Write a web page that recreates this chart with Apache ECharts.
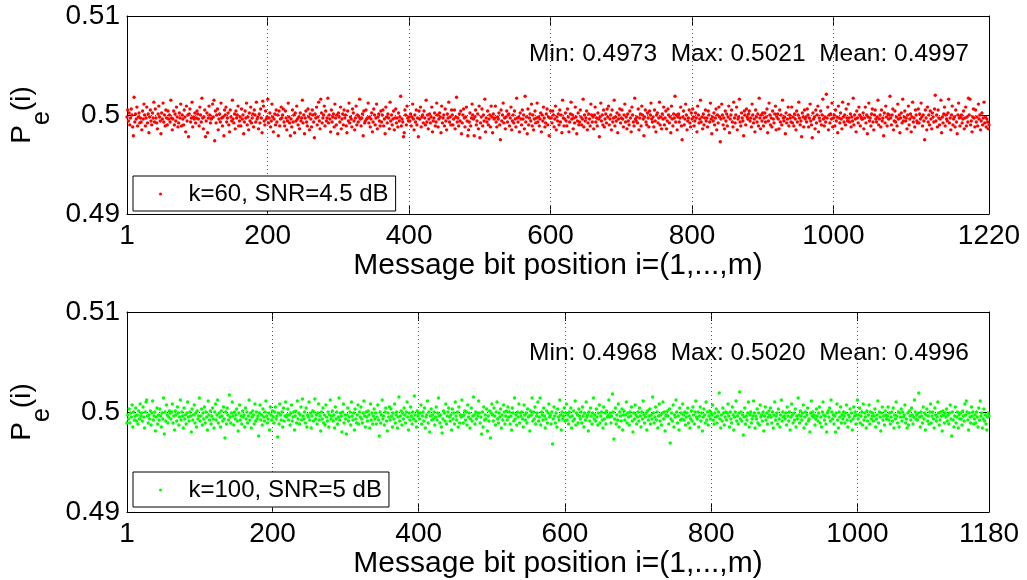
<!DOCTYPE html>
<html>
<head>
<meta charset="utf-8">
<title>P_e(i) per message bit position</title>
<script src="https://cdn.jsdelivr.net/npm/echarts@6/dist/echarts.min.js"></script>
<style>
html, body { margin: 0; padding: 0; background: #fff; }
#chart { width: 1027px; height: 580px; }
</style>
</head>
<body>
<div id="chart"></div>
<script>
// Per-bit error probability P_e(i) for bit positions i = 1..m,
// stored as offsets from 0.5 in units of 1e-4 (e.g. -3 means 0.4997).
const pe60Offset = [
  -2,5,-6,2,-10,-3,6,0,-12,-21,18,-7,1,-4,8,-11,-2,2,-8,-3,
  -7,-15,4,-4,11,0,-11,-3,8,-8,1,-18,-2,5,-6,-10,2,-3,13,-7,
  6,-3,-8,-14,1,9,-2,-6,-19,2,-4,12,-7,0,-11,5,-3,-10,4,-4,
  0,-7,15,-3,-15,-4,4,-10,1,-6,8,-2,-12,-8,2,-3,11,-11,0,-4,
  -10,5,-2,-17,9,-6,0,-22,1,6,-7,-3,13,-12,-2,-4,2,-8,-3,4,
  1,-4,-11,8,0,-7,17,-3,-14,-2,5,-22,-6,2,-18,-3,9,0,-8,-4,
  -3,11,-2,15,-26,4,-8,0,6,-15,-4,1,-7,12,-3,-11,-2,-21,5,0,
  8,-7,-3,2,-10,-17,5,-2,-6,15,-4,-8,1,-14,4,-3,0,9,-11,-6,
  -2,-11,6,-4,0,-19,-7,4,-3,12,-10,-2,-15,2,-6,8,-8,-3,1,-12,
  5,0,-7,13,-4,-2,-14,1,-8,6,-3,-18,14,9,-6,-10,4,-4,-2,16,
  -8,-3,2,-12,-6,11,-2,-17,-4,1,-10,5,-7,0,-21,4,-11,-4,8,-3,
  0,6,-7,-11,4,-3,-15,-6,12,-2,-8,-21,-4,-12,5,-7,0,-18,2,-6,
  9,-4,-10,-2,-14,2,-6,-3,15,-8,0,-19,-3,4,-7,-11,6,-2,-15,1,
  -4,-12,5,0,-7,-23,1,-3,8,-10,-2,13,-6,-14,16,2,-8,-3,0,9,
  -11,4,-6,-3,17,-8,0,-4,-17,5,-7,-2,1,-12,11,-3,-10,0,-19,2,
  -2,-7,8,-14,-4,1,-10,5,-3,0,-11,-18,4,-6,12,-8,-2,-4,-12,6,
  2,-6,-15,-3,9,-10,0,-7,-2,16,-4,-11,-3,1,-21,4,-8,-6,5,-4,
  -3,12,-8,-2,-12,-4,2,-17,-7,6,0,-10,-3,11,-14,-2,1,-6,-11,4,
  -7,0,5,-11,-4,-19,8,-2,-8,1,-3,-14,13,-6,0,-10,-4,4,-15,-3,
  6,-8,-3,-12,2,-6,-2,19,-11,-4,-7,-22,-18,5,0,-10,9,-3,-6,-2,
  -6,1,-11,-2,11,-4,-15,0,-7,5,-10,-3,-22,4,-4,8,-12,-2,0,-8,
  4,-3,-10,15,-7,0,-14,-4,1,-8,-2,8,-17,-6,-3,2,-11,-7,12,0,
  -12,-4,2,-2,-18,9,-8,-3,0,-11,6,-6,-15,1,-3,13,-7,-2,-10,5,
  0,-10,-4,5,-14,-2,18,-7,-3,-11,1,-6,4,-19,-8,0,6,-3,-12,-2,
  8,-6,-21,-15,-7,2,-11,-3,11,0,-4,-21,-2,5,-10,-6,1,-14,9,-23,
  -8,-2,6,-11,0,-6,16,-17,-3,-7,4,-10,-4,0,-12,9,-2,-18,1,-4,
  -3,9,-7,-12,-2,-4,2,-10,-25,5,-6,0,12,-8,-3,-14,-2,4,-7,0,
  1,-11,-3,8,-15,-6,0,-8,4,-4,-12,17,-3,-7,-2,-17,2,-4,-10,5,
  -4,0,-14,19,-7,-2,-19,6,-10,-3,1,-6,11,-11,0,-15,-4,4,-8,-3,
  12,-7,-2,-11,-4,2,-17,0,-6,8,-3,-12,-8,1,6,-10,-2,-21,-3,4,
  -3,-8,4,0,-12,-4,9,-15,-2,-6,1,-10,5,-7,0,-18,15,-3,-11,-4,
  2,-6,-11,6,-2,-17,-7,1,13,-4,0,-14,-3,-8,8,-2,-19,-6,2,-10,
  -7,5,-2,-10,-4,16,-12,0,-6,-3,4,-15,-8,1,-4,-11,11,0,-7,-2,
  -14,0,8,-7,-3,-11,2,-4,-22,-2,12,-6,0,-10,5,-12,-4,1,-8,6,
  -2,9,-10,-4,0,-15,5,-7,-3,15,-11,-2,-6,2,-18,-4,0,6,-8,-3,
  5,-4,-12,0,11,-7,-2,-14,1,-6,-10,4,-3,-17,8,0,-7,-11,17,-4,
  -6,-2,-8,6,-15,-3,1,-11,9,0,-4,-21,-2,5,-7,-10,2,-3,-12,4,
  0,12,-4,-7,-2,-12,5,-6,-17,0,2,-8,-3,13,-10,-2,-14,1,-4,8,
  -10,-3,4,-14,-6,6,0,-8,-2,-18,9,-4,-11,1,-3,19,-7,0,-15,-2,
  1,-7,-3,8,-11,-25,-2,4,-10,-4,11,0,-15,-6,-3,5,-8,-12,2,-4,
  6,-2,-11,-6,2,-3,-17,9,0,-8,-4,15,-7,-2,-14,1,-10,-3,5,-6,
  -3,-12,4,0,-7,12,-4,-19,-2,-6,2,-10,-3,6,-15,0,-8,8,-2,-27,
  -4,11,0,-10,-3,-14,4,-6,1,-11,-2,9,-18,-4,0,5,-7,-12,13,-3,
  -8,0,8,-15,-4,-2,16,-7,-11,2,-3,-6,-21,4,0,-10,6,-2,-4,1,
  4,-6,-3,-12,11,0,-8,-4,-17,5,-2,-7,1,-11,17,-3,-14,0,-6,2,
  -11,-3,2,-7,-2,6,-18,-6,12,0,-10,-3,-12,4,-4,-8,1,9,-15,-2,
  1,-4,-14,5,-7,0,-10,15,-3,-6,-2,-19,2,-8,-4,8,-11,0,-3,-7,
  8,-8,-2,-11,1,-4,-15,4,-7,0,13,-3,-10,-6,-22,2,-2,-12,5,-4,
  -2,-7,6,0,-12,-3,11,-6,-10,-23,2,-4,-2,-14,5,-8,0,9,-17,-3,
  -6,4,-10,0,16,-4,-11,-2,-7,21,-3,8,-15,0,-8,1,-4,12,-12,-3,
  0,-11,5,-6,-2,-18,9,-3,-8,2,-4,-14,13,-2,-7,0,-10,6,-3,-6,
  11,-3,-7,1,-12,-2,-6,17,-10,0,-4,-17,4,-3,-8,8,0,-11,-2,-4,
  -4,2,-14,-3,8,-8,0,-19,-2,12,-6,-3,-11,1,6,-7,-15,0,5,-4,
  -7,-2,15,-10,-4,0,-12,5,-6,-3,-21,2,-8,9,-2,-11,1,-4,0,19,
  -3,-10,0,6,-15,-6,4,-7,-2,-11,11,-4,0,-18,-3,2,-8,16,-6,-2,
  4,-6,-3,-14,0,9,-10,-4,1,-17,-2,13,-7,-3,-12,5,0,-6,-8,6,
  -8,1,-4,12,-2,-11,0,-6,-25,5,-3,-15,8,-7,0,-10,4,-4,-14,2,
  -2,-7,6,20,-6,0,-12,5,-3,-10,-4,15,-18,-2,-8,1,8,-11,0,-4,
  -6,2,16,-8,-3,-15,0,9,-10,-4,-2,-12,5,-7,-19,0,12,-3,-11,-2,
  0,-8,-4,4,-14,-3,8,-11,-2,-7,17,0,16,-10,-6,-17,-2,6,-3,-12,
  5,-7,-2,-11,11,-4,0,-15,-6,2,-10,-3,13,-8,-2,-12,-4,-7,-14,-10
];

const pe100Offset = [
  -11,-3,-7,3,-11,-1,-5,7,-15,0,-8,-4,4,-9,-3,-12,1,-7,8,-4,
  -1,-9,5,-5,-16,0,10,12,-4,-11,-3,-7,1,-13,-1,11,-8,-4,0,-19,
  -5,4,-12,-3,-8,3,-4,-15,-1,-7,14,-22,0,-9,7,-3,-11,-5,1,-1,
  -7,0,8,-11,-4,-18,1,-3,-9,5,-1,-13,-5,12,-8,0,-4,-16,4,-7,
  -3,-12,-1,10,-5,-9,0,-4,-20,3,-8,-3,7,-11,-1,-15,1,-7,-4,14,
  -9,-4,3,-13,-1,-7,5,-11,0,-5,-18,11,-3,-8,1,-12,-4,4,-7,-16,
  0,8,-8,-3,12,-11,-1,-5,-15,1,-4,-9,5,-7,-26,0,-12,4,-3,-8,
  17,-5,-11,-1,10,-4,-13,0,-7,-3,3,-9,-19,-1,7,-8,-4,-12,1,-5,
  -3,-15,4,-7,0,-11,-4,12,-8,-1,-16,-5,1,-3,-12,8,-9,0,-7,-4,
  -24,-1,7,-8,-3,-13,3,-5,-9,0,11,-4,-11,-7,-1,-18,5,-3,-8,1,
  -5,-11,0,5,-7,-4,-25,-1,-12,8,-3,-8,0,-15,4,-9,-4,10,-5,-3,
  3,-8,-3,-13,-1,7,-9,-5,0,-18,-4,1,-11,11,-7,-1,-12,-3,5,-8,
  13,-4,-7,0,-11,4,-15,-3,-5,10,-8,-1,-16,-4,1,-9,0,13,-7,-3,
  -12,-1,8,-8,-4,-19,0,-7,4,-11,-3,-13,7,-5,-9,0,-15,-3,12,-7,
  -4,1,-9,-3,-16,5,-7,0,-12,-5,14,-8,-1,-4,-20,0,8,-11,-3,-7,
  -22,-3,4,-9,-5,0,-13,10,-4,-8,-1,-18,3,-7,-11,-3,7,-12,0,-5,
  5,-7,-11,-1,11,-4,-15,0,-5,-9,1,-3,-16,8,-8,-1,-12,-4,3,-7,
  -1,-12,-5,7,-8,-24,0,-11,-3,12,-7,-4,-13,0,4,-9,-19,-1,-5,5,
  -8,3,-4,-15,-1,-7,8,-11,-3,0,-16,-5,15,-9,-4,1,-13,-1,-7,4,
  -3,-11,0,10,-5,-18,-1,-8,5,-4,-12,0,-7,16,-3,-9,-15,1,-4,-1,
  -7,-1,7,-12,-4,0,-9,4,-16,-5,-3,11,-11,0,-20,-4,3,-8,-3,-7,
  0,-13,-5,5,-8,-1,14,-4,-11,-3,-15,-21,-7,1,-1,-9,8,-12,-4,0,
  4,-5,-9,-3,-18,3,-7,-1,-12,10,-4,-8,0,-15,5,-11,-3,-5,12,-4,
  -11,-3,1,-8,0,-13,7,-5,-1,-16,-7,4,-9,-4,15,-3,-12,0,-7,-1,
  -4,11,-1,-11,-5,-22,0,-15,5,-8,-3,-7,3,-19,-4,-9,1,-26,-1,8,
  -3,-9,4,-4,-13,0,10,-7,-11,-1,-5,3,-16,-3,-8,7,0,-12,-4,1,
  -8,5,-5,0,-12,-4,-18,4,-1,-9,14,-7,-3,-13,0,-5,8,-11,-1,-4,
  0,-7,-15,7,-3,-8,-1,-11,3,-5,-4,-19,1,-3,14,-9,0,-7,5,-12,
  -4,-1,10,-9,-5,14,-13,0,-3,-8,4,-4,-16,-7,1,-11,-1,8,-5,-3,
  -12,0,-32,-7,5,-4,-11,-1,-15,3,-5,-8,12,-3,-18,0,-7,-4,4,-9,
  -1,8,-8,-3,-12,0,-5,4,-16,-4,-9,1,-7,11,-13,-1,-3,-11,3,-4,
  -7,0,-11,5,-4,-15,-1,-8,10,-5,-3,-19,0,-9,4,-4,-12,-1,14,-7,
  -3,-9,3,-5,-13,-1,7,-11,-4,0,-8,-16,5,-7,-1,-12,1,-5,-3,12,
  -5,-1,-11,-4,18,0,-27,-7,4,-12,-3,-8,8,-15,0,-4,-9,3,-18,-3,
  1,-8,-3,10,-11,-1,-5,-13,0,-4,5,-9,-20,-1,-7,7,-3,-12,-5,0,
  -9,4,-4,-15,0,-7,11,-3,-11,-5,-1,-18,1,-8,-4,3,-12,-3,-7,15,
  -1,-11,-5,5,-8,0,-16,-4,8,-9,-3,-13,-1,10,-7,0,-19,-4,-3,1,
  -4,-12,3,-31,-7,-1,-9,7,-15,-3,-5,12,0,-11,-4,-18,4,-8,-1,-7,
  8,-3,-8,0,-13,-5,-1,4,-11,-4,-16,-7,1,-9,5,-3,-12,0,11,-5,
  -7,0,-15,-4,5,-9,-1,-19,-5,3,-3,-11,10,-8,0,-13,-4,1,-7,-1,
  -3,7,-8,-12,-1,-5,3,-11,-4,0,19,-7,-16,-3,-9,4,-1,-13,-5,0,
  -8,-1,8,-4,-15,0,-7,-11,5,-3,-18,-5,0,11,-9,-4,-12,-1,20,-7,
  0,-9,-3,-23,-5,4,-12,-4,-8,-1,10,-15,-3,0,-11,-7,-4,11,-1,-16,
  -4,-7,3,-11,-1,-13,7,-5,-3,-9,0,-19,-4,5,-8,-1,-12,-5,1,-3,
  4,-5,-11,0,-16,-3,10,-8,-4,-1,-12,3,-7,-15,-3,12,-9,0,-5,-4,
  -7,-1,-13,5,-4,-9,0,-18,-5,8,-3,-11,-1,-8,3,-15,-4,-7,14,-3,
  -11,1,-4,-8,-1,7,-16,-5,0,-12,-3,4,-9,-7,-20,-1,11,-4,0,-5,
  -3,-13,-7,3,-4,-9,-1,5,-11,-5,-15,0,10,-3,-8,-4,-12,-20,-1,1,
  -5,4,-9,12,0,-7,-3,-12,-4,-20,-1,8,-8,-16,0,-5,5,-11,-3,-7,
  0,-4,-11,-1,7,-8,-15,-3,-5,3,-9,-1,-18,-7,5,-4,0,-12,-3,12,
  -7,-3,4,-11,-4,0,-13,8,-8,-1,-5,-16,1,-9,-3,7,-12,0,-7,-4,
  -1,-9,-4,3,-15,-7,-3,11,-11,0,-5,-19,-1,5,-8,-4,-13,1,-3,-7,
  -4,5,-8,-1,-12,-5,0,-9,4,-16,-3,-7,10,-4,-11,0,-15,-1,-5,3,
  -9,0,-5,-3,7,-11,-7,-16,-1,-13,1,-4,-8,4,-3,-12,-5,12,0,-7,
  -3,-8,-1,19,-5,-15,0,-4,-11,5,-7,-1,-18,-3,3,-9,-4,-12,0,8,
  -11,-4,0,-7,-16,4,-3,-9,-5,10,-1,-13,-8,0,-4,-19,1,-3,-11,-1,
  -5,3,-9,-3,-12,-1,7,-7,-24,0,-8,-15,-4,5,-11,-5,0,-16,-3,-7,
  -1,-7,-13,1,-4,-9,8,-3,11,0,-8,-18,-1,-5,-11,5,-4,0,-12,-7,
  -3,-11,0,-5,-15,4,-8,11,-4,-1,-16,-7,3,-9,-3,-12,-18,-5,-1,-4
];

const xTicks60 = [1, 200, 400, 600, 800, 1000, 1220];
const xTicks100 = [1, 200, 400, 600, 800, 1000, 1180];
const xGridLines = [200, 400, 600, 800, 1000];
const yTicks = [0.49, 0.5, 0.51];
const yTickLabels = ['0.49', '0.5', '0.51'];
const seriesNames = ['k=60, SNR=4.5 dB', 'k=100, SNR=5 dB'];
const seriesColors = ['#ff0000', '#00ff00'];
const statsLines = [
  'Min: 0.4973  Max: 0.5021  Mean: 0.4997',
  'Min: 0.4968  Max: 0.5020  Mean: 0.4996'
];
const xTitle = 'Message bit position i=(1,...,m)';

const FONT = '"Liberation Sans", Arial, Helvetica, sans-serif';
const GRID_DOT = { type: [1, 3], color: '#555', width: 1 };

function toPoints(offsets) {
  return offsets.map((d, i) => [i + 1, 0.5 + d / 10000]);
}

function yLabel(v) {
  const k = yTicks.findIndex(t => Math.abs(t - v) < 1e-9);
  return k >= 0 ? yTickLabels[k] : '';
}

const panels = [
  { grid: { left: 127, top: 16, width: 862, height: 198 }, ticks: xTicks60, data: pe60Offset },
  { grid: { left: 127, top: 312, width: 862, height: 200 }, ticks: xTicks100, data: pe100Offset }
];

const grids = [], xAxes = [], yAxes = [], series = [], legends = [], graphics = [];

panels.forEach((p, gi) => {
  const xMax = p.ticks[p.ticks.length - 1];
  grids.push(p.grid);

  // bottom axis with labels and title
  xAxes.push({
    gridIndex: gi, type: 'value', position: 'bottom', min: 1, max: xMax,
    axisLine: { onZero: false, lineStyle: { color: '#000', width: 1 } },
    axisTick: { inside: true, length: 9, customValues: p.ticks, lineStyle: { color: '#000' } },
    axisLabel: {
      customValues: p.ticks, formatter: v => String(v),
      fontSize: 28, fontFamily: FONT, color: '#000', margin: 8
    },
    splitLine: { show: false },
    name: xTitle, nameLocation: 'middle', nameGap: 36,
    nameTextStyle: { fontSize: 30, fontFamily: FONT, color: '#000' }
  });
  // mirrored top axis (box edge with inward ticks)
  xAxes.push({
    gridIndex: gi, type: 'value', position: 'top', min: 1, max: xMax,
    axisLine: { onZero: false, lineStyle: { color: '#000', width: 1 } },
    axisTick: { inside: true, length: 9, customValues: p.ticks, lineStyle: { color: '#000' } },
    axisLabel: { show: false }, splitLine: { show: false }
  });

  yAxes.push({
    gridIndex: gi, type: 'value', position: 'left', min: 0.49, max: 0.51, interval: 0.01,
    axisLine: { onZero: false, lineStyle: { color: '#000', width: 1 } },
    axisTick: { inside: true, length: 9, lineStyle: { color: '#000' } },
    axisLabel: { formatter: yLabel, fontSize: 28, fontFamily: FONT, color: '#000', margin: 7 },
    splitLine: { show: true, lineStyle: GRID_DOT },
    name: '{p|P}{s|e}{p|(i)}', nameLocation: 'middle', nameRotate: 90, nameGap: 70,
    nameTextStyle: {
      rich: {
        p: { fontSize: 28, fontFamily: FONT, color: '#000', lineHeight: 30, verticalAlign: 'top' },
        s: { fontSize: 25, fontFamily: FONT, color: '#000', lineHeight: 25, verticalAlign: 'top', padding: [21, 0, 0, 0] }
      }
    }
  });
  yAxes.push({
    gridIndex: gi, type: 'value', position: 'right', min: 0.49, max: 0.51, interval: 0.01,
    axisLine: { onZero: false, lineStyle: { color: '#000', width: 1 } },
    axisTick: { inside: true, length: 9, lineStyle: { color: '#000' } },
    axisLabel: { show: false }, splitLine: { show: false }
  });

  series.push({
    type: 'scatter', name: seriesNames[gi],
    xAxisIndex: gi * 2, yAxisIndex: gi * 2,
    data: toPoints(p.data),
    symbol: 'circle', symbolSize: 3.4,
    itemStyle: { color: seriesColors[gi], opacity: 1 },
    z: 3,
    markLine: {
      silent: true, symbol: ['none', 'none'], z: 1,
      label: { show: false },
      lineStyle: GRID_DOT,
      data: xGridLines.map(v => ({ xAxis: v }))
    }
  });

  legends.push({
    data: [seriesNames[gi]], left: 133, top: p.grid.top + 160,
    orient: 'vertical', selectedMode: false,
    icon: 'circle', itemWidth: 30, itemHeight: 3,
    padding: [6, 7, 5, 26],
    backgroundColor: '#fff', borderColor: '#000', borderWidth: 1, borderRadius: 0,
    textStyle: { fontSize: 24, fontFamily: FONT, color: '#000', padding: [0, 0, 0, 8] }
  });

  graphics.push({
    type: 'text', x: 749, y: p.grid.top + 38 + (gi === 1 ? 3 : 0), z: 10,
    style: {
      text: statsLines[gi], fill: '#000', fontSize: 24.5, fontFamily: FONT,
      align: 'center', verticalAlign: 'middle'
    }
  });
});

const chart = echarts.init(document.getElementById('chart'), null, { renderer: 'canvas' });
chart.setOption({
  animation: false,
  backgroundColor: '#fff',
  grid: grids,
  xAxis: xAxes,
  yAxis: yAxes,
  legend: legends,
  graphic: graphics,
  series: series
});
</script>
</body>
</html>
